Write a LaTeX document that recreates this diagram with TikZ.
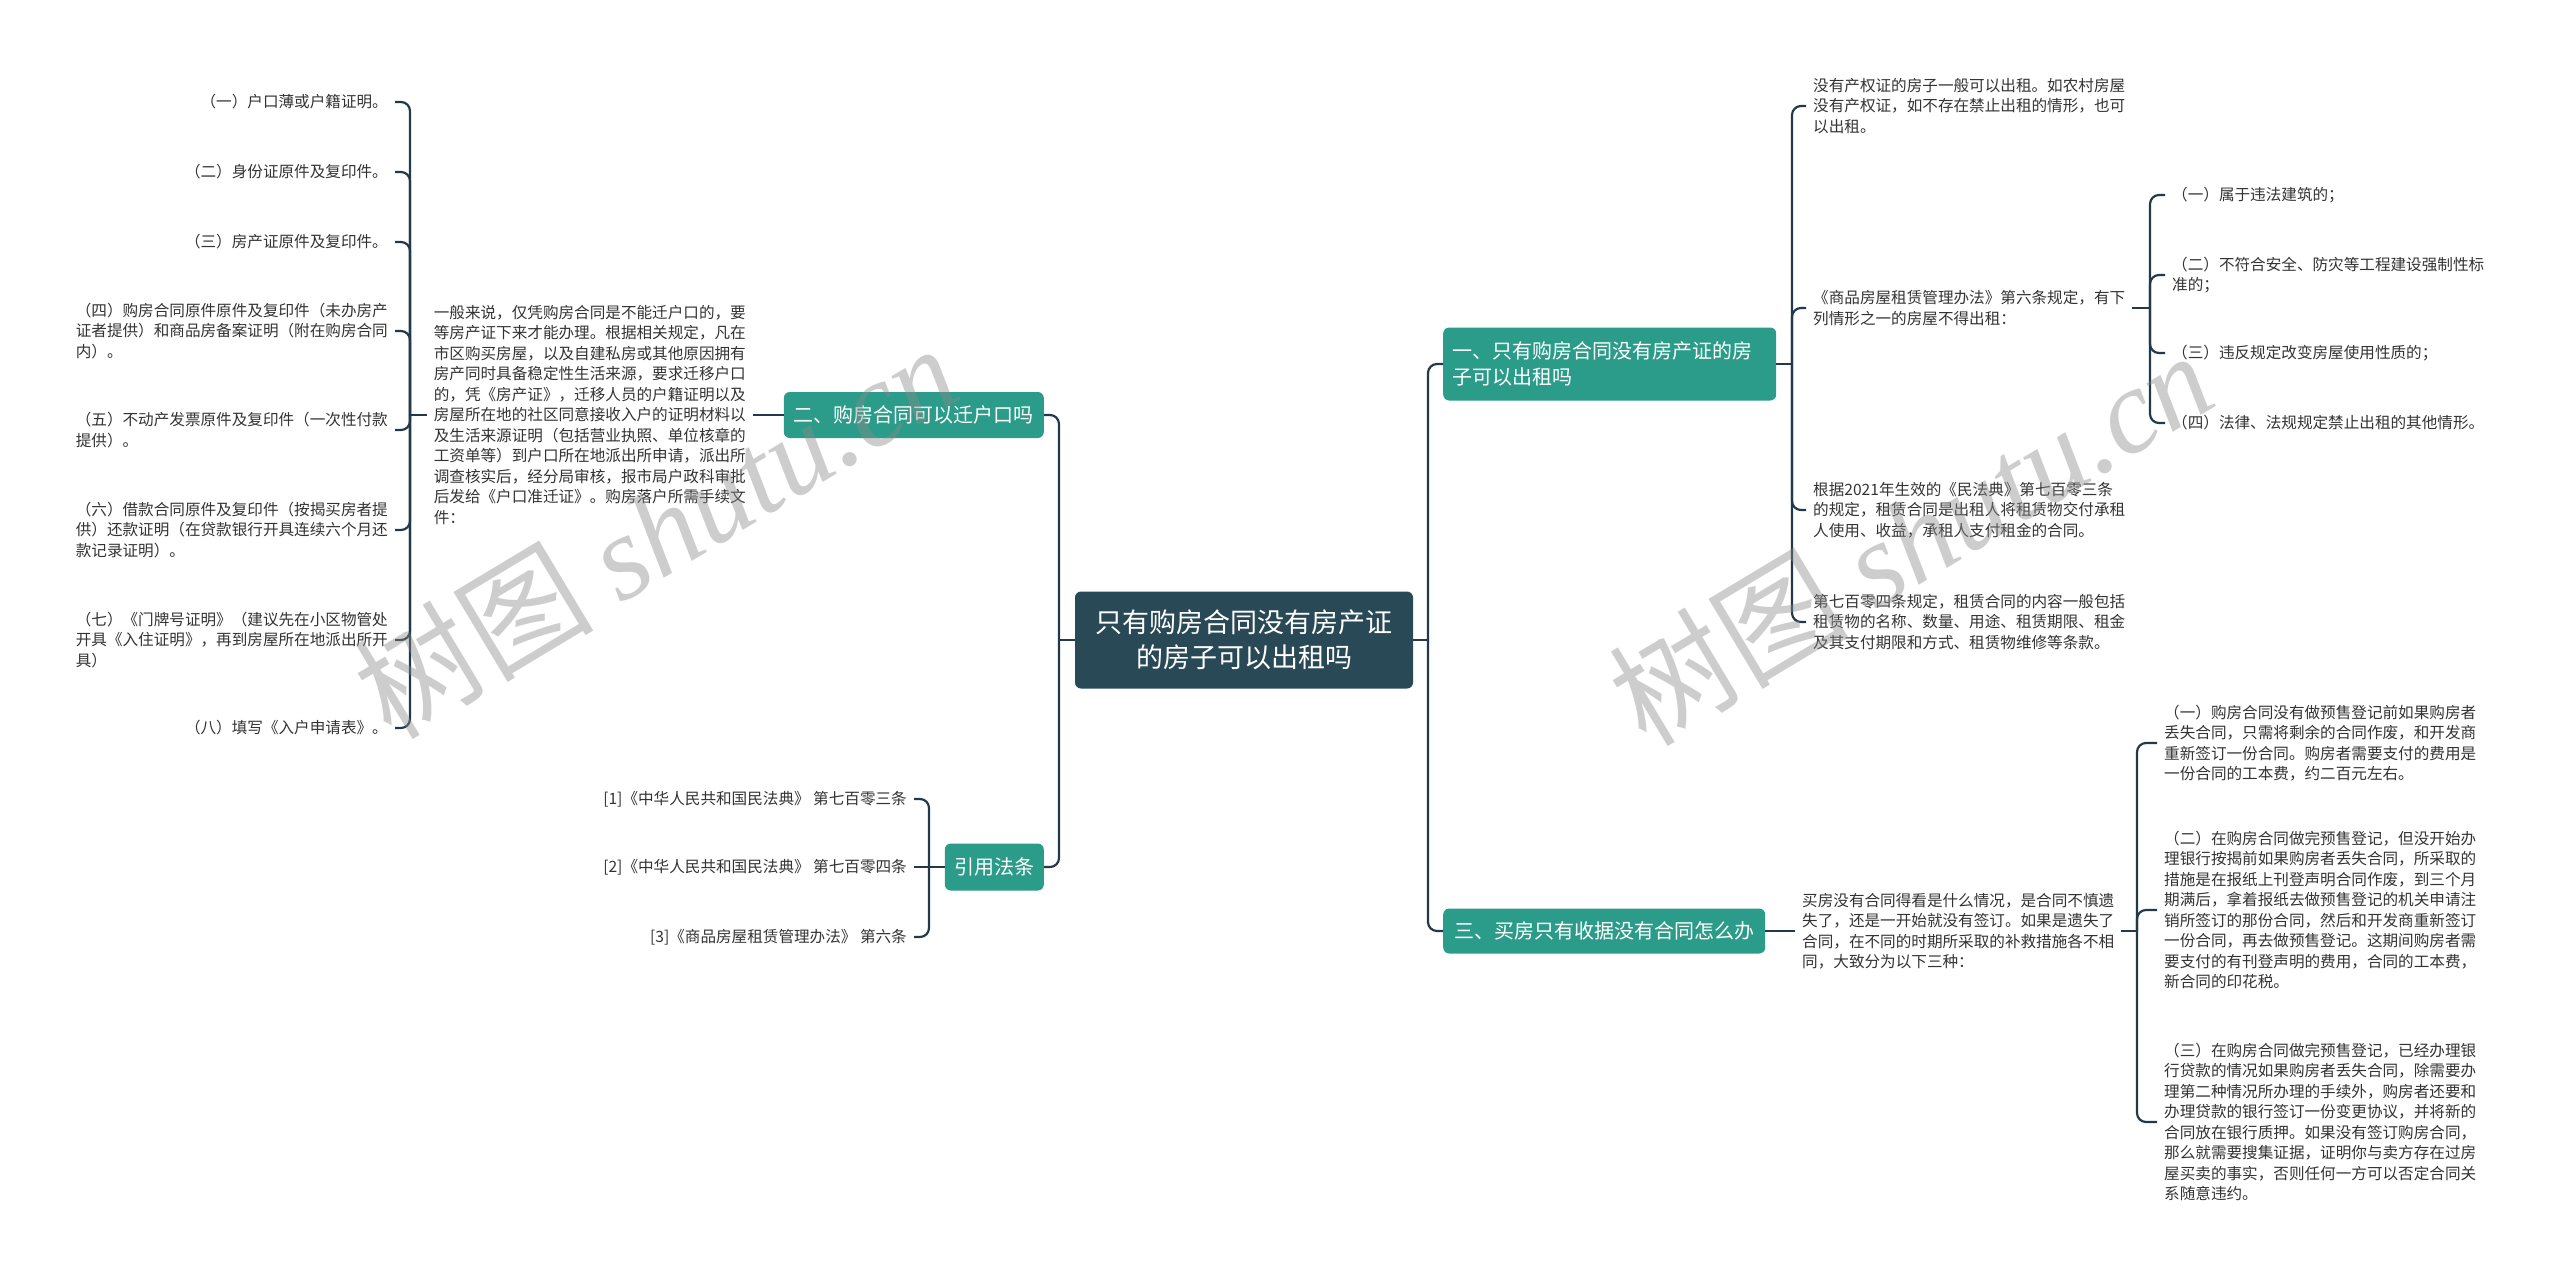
\documentclass[tikz,border=0pt]{standalone}
\usepackage{fontspec}
\setmainfont{Noto Sans CJK SC}
\newfontfamily\wmcjk{Noto Sans CJK SC}
\newfontfamily\wmlat{Liberation Serif}
\definecolor{rootc}{HTML}{294956}
\definecolor{branchc}{HTML}{2C9C8A}
\definecolor{linec}{HTML}{21394A}
\definecolor{leafc}{HTML}{333333}
\definecolor{wmc}{HTML}{8A8A8A}
\tikzset{
  conn/.style={draw=linec, line width=2.2pt},
  rconn/.style={conn, rounded corners=9pt},
  rootbox/.style={fill=rootc, rounded corners=6pt, text=white, font=\fontsize{27}{35}\selectfont, align=center, minimum width=338pt, minimum height=97pt, inner sep=0pt},
  branchbox/.style={fill=branchc, rounded corners=6pt, text=white, font=\fontsize{20}{26}\selectfont, inner ysep=0pt, minimum height=46pt},
  leaf/.style={text=leafc, font=\fontsize{15.6}{20.5}\selectfont, align=left, inner xsep=7pt, inner ysep=2pt},
  wmark/.style={text=wmc, opacity=0.42, font=\fontsize{120}{120}\selectfont, inner sep=0pt, rotate=31}
}
\begin{document}
\begin{tikzpicture}[x=1pt, y=-1pt]
\fill[white] (0,0) rectangle (2560,1278);
\useasboundingbox (0,0) rectangle (2560,1278);

% root
\node[rootbox] (root) at (1244,640) {只有购房合同没有房产证\\的房子可以出租吗};

% main branches
\node[branchbox, anchor=west, text width=315pt, align=left, inner xsep=9pt, minimum height=73pt] (b1) at (1443,364) {一、只有购房合同没有房产证的房\\子可以出租吗};
\node[branchbox, anchor=east, inner xsep=10pt] (b2) at (1044,415) {二、购房合同可以迁户口吗};
\node[branchbox, anchor=west, inner xsep=11pt, minimum height=45pt] (b3) at (1443,931) {三、买房只有收据没有合同怎么办};
\node[branchbox, anchor=east, inner xsep=9.5pt, minimum height=47pt] (b4) at (1044,867) {引用法条};

\coordinate (rR) at (1428,640);
\coordinate (rL) at (1059,640);
\draw[conn] (root.east) -- (rR);
\draw[conn] (root.west) -- (rL);
\draw[rconn] (rR) |- (b1.west);
\draw[rconn] (rR) |- (b3.west);
\draw[rconn] (rL) |- (b2.east);
\draw[rconn] (rL) |- (b4.east);

% branch 2 paragraph
\node[leaf, anchor=east] (p2) at (753,415) {一般来说，仅凭购房合同是不能迁户口的，要\\等房产证下来才能办理。根据相关规定，凡在\\市区购买房屋，以及自建私房或其他原因拥有\\房产同时具备稳定性生活来源，要求迁移户口\\的，凭《房产证》，迁移人员的户籍证明以及\\房屋所在地的社区同意接收入户的证明材料以\\及生活来源证明（包括营业执照、单位核章的\\工资单等）到户口所在地派出所申请，派出所\\调查核实后，经分局审核，报市局户政科审批\\后发给《户口准迁证》。购房落户所需手续文\\件：};
\draw[conn] (b2.west) -- (p2.east);

% left items
\node[leaf, anchor=east] (i1) at (395,102) {（一）户口薄或户籍证明。};
\node[leaf, anchor=east] (i2) at (395,172) {（二）身份证原件及复印件。};
\node[leaf, anchor=east] (i3) at (395,242) {（三）房产证原件及复印件。};
\node[leaf, anchor=east] (i4) at (395,331) {（四）购房合同原件原件及复印件（未办房产\\证者提供）和商品房备案证明（附在购房合同\\内）。};
\node[leaf, anchor=east] (i5) at (395,430) {（五）不动产发票原件及复印件（一次性付款\\提供）。};
\node[leaf, anchor=east] (i6) at (395,530) {（六）借款合同原件及复印件（按揭买房者提\\供）还款证明（在贷款银行开具连续六个月还\\款记录证明）。};
\node[leaf, anchor=east] (i7) at (395,640) {（七）《门牌号证明》（建议先在小区物管处\\开具《入住证明》，再到房屋所在地派出所开\\具）};
\node[leaf, anchor=east] (i8) at (395,728) {（八）填写《入户申请表》。};
\coordinate (tL) at (410,415);
\draw[conn] (p2.west) -- (tL);
\foreach \n in {i1,i2,i3,i4,i5,i6,i7,i8}{\draw[rconn] (tL) |- (\n.east);}

% references
\node[leaf, anchor=east] (f1) at (914,799) {[1]《中华人民共和国民法典》 第七百零三条};
\node[leaf, anchor=east] (f2) at (914,867) {[2]《中华人民共和国民法典》 第七百零四条};
\node[leaf, anchor=east] (f3) at (914,937) {[3]《商品房屋租赁管理办法》 第六条};
\coordinate (tF) at (929,867);
\draw[conn] (b4.west) -- (f2.east);
\draw[rconn] (tF) |- (f1.east);
\draw[rconn] (tF) |- (f3.east);

% branch 1 children
\node[leaf, anchor=west] (c1) at (1806,106) {没有产权证的房子一般可以出租。如农村房屋\\没有产权证，如不存在禁止出租的情形，也可\\以出租。};
\node[leaf, anchor=west] (c2) at (1806,308) {《商品房屋租赁管理办法》第六条规定，有下\\列情形之一的房屋不得出租：};
\node[leaf, anchor=west] (c3) at (1806,510) {根据2021年生效的《民法典》第七百零三条\\的规定，租赁合同是出租人将租赁物交付承租\\人使用、收益，承租人支付租金的合同。};
\node[leaf, anchor=west] (c4) at (1806,622) {第七百零四条规定，租赁合同的内容一般包括\\租赁物的名称、数量、用途、租赁期限、租金\\及其支付期限和方式、租赁物维修等条款。};
\coordinate (tB1) at (1792,364);
\draw[conn] (b1.east) -- (tB1);
\foreach \n in {c1,c2,c3,c4}{\draw[rconn] (tB1) |- (\n.west);}

% c2 children
\node[leaf, anchor=west] (d1) at (2165,195) {（一）属于违法建筑的；};
\node[leaf, anchor=west] (d2) at (2165,275) {（二）不符合安全、防灾等工程建设强制性标\\准的；};
\node[leaf, anchor=west] (d3) at (2165,353) {（三）违反规定改变房屋使用性质的；};
\node[leaf, anchor=west] (d4) at (2165,423) {（四）法律、法规规定禁止出租的其他情形。};
\coordinate (tC2) at (2150,308);
\draw[conn] (c2.east) -- (tC2);
\foreach \n in {d1,d2,d3,d4}{\draw[rconn] (tC2) |- (\n.west);}

% branch 3 paragraph
\node[leaf, anchor=west] (p3) at (1795,931) {买房没有合同得看是什么情况，是合同不慎遗\\失了，还是一开始就没有签订。如果是遗失了\\合同，在不同的时期所采取的补救措施各不相\\同，大致分为以下三种：};
\draw[conn] (b3.east) -- (p3.west);

\node[leaf, anchor=west] (e1) at (2157,743) {（一）购房合同没有做预售登记前如果购房者\\丢失合同，只需将剩余的合同作废，和开发商\\重新签订一份合同。购房者需要支付的费用是\\一份合同的工本费，约二百元左右。};
\node[leaf, anchor=west] (e2) at (2157,910) {（二）在购房合同做完预售登记，但没开始办\\理银行按揭前如果购房者丢失合同，所采取的\\措施是在报纸上刊登声明合同作废，到三个月\\期满后，拿着报纸去做预售登记的机关申请注\\销所签订的那份合同，然后和开发商重新签订\\一份合同，再去做预售登记。这期间购房者需\\要支付的有刊登声明的费用，合同的工本费，\\新合同的印花税。};
\node[leaf, anchor=west] (e3) at (2157,1122) {（三）在购房合同做完预售登记，已经办理银\\行贷款的情况如果购房者丢失合同，除需要办\\理第二种情况所办理的手续外，购房者还要和\\办理贷款的银行签订一份变更协议，并将新的\\合同放在银行质押。如果没有签订购房合同，\\那么就需要搜集证据，证明你与卖方存在过房\\屋买卖的事实，否则任何一方可以否定合同关\\系随意违约。};
\coordinate (tP3) at (2137,931);
\draw[conn] (p3.east) -- (tP3);
\foreach \n in {e1,e2,e3}{\draw[rconn] (tP3) |- (\n.west);}

% watermarks
\node[wmark] (wm1) at (655,530) {\wmcjk 树图 \wmlat\itshape shutu.cn};
\node[wmark] (wm2) at (1910,537) {\wmcjk 树图 \wmlat\itshape shutu.cn};
\end{tikzpicture}
\end{document}
